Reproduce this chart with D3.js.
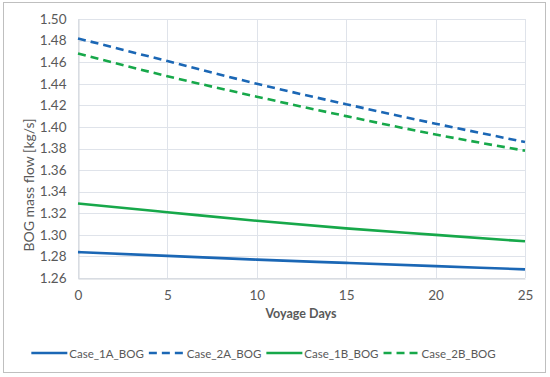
<!DOCTYPE html>
<html>
<head>
<meta charset="utf-8">
<script src="https://cdn.jsdelivr.net/npm/d3@7"></script>
<style>
  body { margin: 0; background: #fff; }
  text { font-family: Lato, "Open Sans", sans-serif; fill: #595959; }
</style>
</head>
<body>
<div id="chart"></div>
<script>
// values
var days = [0, 5, 10, 15, 20, 25];
var case1A = [1.284, 1.2805, 1.277, 1.274, 1.271, 1.268];
var case2A = [1.482, 1.461, 1.440, 1.421, 1.403, 1.386];
var case1B = [1.329, 1.321, 1.313, 1.306, 1.300, 1.294];
var case2B = [1.468, 1.447, 1.428, 1.410, 1.393, 1.378];
var yTicks = [1.26, 1.28, 1.30, 1.32, 1.34, 1.36, 1.38, 1.40, 1.42, 1.44, 1.46, 1.48, 1.50];

var series = [
  {name: 'Case_1A_BOG', vals: case1A, color: '#1b67b5', dash: null},
  {name: 'Case_2A_BOG', vals: case2A, color: '#1b67b5', dash: '8,5'},
  {name: 'Case_1B_BOG', vals: case1B, color: '#17a84a', dash: null},
  {name: 'Case_2B_BOG', vals: case2B, color: '#17a84a', dash: '8,5'}
];

var W = 550, H = 377;
var svg = d3.select('#chart').append('svg')
    .attr('width', W)
    .attr('height', H);

// outer frame
svg.append('rect')
    .attr('x', 3.5).attr('y', 2.5)
    .attr('width', 542).attr('height', 370)
    .style('fill', '#fff')
    .style('stroke', '#bfbfbf');

var x = d3.scaleLinear().domain([0, 25]).range([78, 525]);
var y = d3.scaleLinear().domain([1.26, 1.50]).range([278, 19]);

// grid
svg.append('g')
    .selectAll('line.h').data(yTicks).enter().append('line')
    .attr('x1', x(0)).attr('x2', x(25))
    .attr('y1', function(d) { return Math.round(y(d)) + 0.5; })
    .attr('y2', function(d) { return Math.round(y(d)) + 0.5; })
    .style('stroke', '#dfe3ea');
svg.append('g')
    .selectAll('line.v').data(days).enter().append('line')
    .attr('y1', y(1.26)).attr('y2', y(1.50))
    .attr('x1', function(d) { return Math.round(x(d)) + 0.5; })
    .attr('x2', function(d) { return Math.round(x(d)) + 0.5; })
    .style('stroke', '#dfe3ea');

// axes
var xAxis = svg.append('g')
    .attr('transform', 'translate(0,' + (Math.round(y(1.26)) + 0.5) + ')')
    .call(d3.axisBottom(x).tickValues(days).tickSize(0).tickPadding(12));
var yAxis = svg.append('g')
    .attr('transform', 'translate(' + (Math.round(x(0)) + 0.5) + ',0)')
    .call(d3.axisLeft(y).tickValues(yTicks).tickFormat(d3.format('.2f')).tickSize(0).tickPadding(12));
xAxis.select('.domain').style('stroke', '#d0d4da');
yAxis.select('.domain').style('stroke', '#d0d4da');
svg.selectAll('.tick text')
    .style('font-family', 'Lato, "Open Sans", sans-serif')
    .style('font-size', '13.5px')
    .style('fill', '#595959');

// lines
var line = d3.line()
    .x(function(d, i) { return x(days[i]); })
    .y(function(d) { return y(d); })
    .curve(d3.curveMonotoneX);

svg.append('g')
    .selectAll('path').data(series).enter().append('path')
    .attr('d', function(s) { return line(s.vals); })
    .style('fill', 'none')
    .style('stroke', function(s) { return s.color; })
    .style('stroke-width', 2.6)
    .style('stroke-dasharray', function(s) { return s.dash; });

// axis titles
svg.append('text')
    .attr('x', 301).attr('y', 318)
    .attr('text-anchor', 'middle')
    .style('font-size', '12.5px')
    .style('font-weight', 'bold')
    .text('Voyage Days');
svg.append('text')
    .attr('transform', 'translate(34,' + 185 + ') rotate(-90)')
    .attr('text-anchor', 'middle')
    .style('font-size', '14px')
    .text('BOG mass flow [kg/s]');

// legend: lay items out by measured text width, centred
var legend = svg.append('g');
var leg = legend.selectAll('g').data(series).enter().append('g');
leg.append('line')
    .attr('x1', 0).attr('x2', 36)
    .style('stroke', function(s) { return s.color; })
    .style('stroke-width', 2.6)
    .style('stroke-dasharray', function(s) { return s.dash; });
leg.append('text')
    .attr('x', 38).attr('y', 4.5)
    .style('font-size', '11.5px')
    .text(function(s) { return s.name; });

var pos = 0, offsets = [];
leg.each(function() {
  offsets.push(pos);
  pos += 38 + d3.select(this).select('text').node().getComputedTextLength() + 5;
});
var start = 263.5 - (pos - 5) / 2;
leg.attr('transform', function(s, i) { return 'translate(' + (start + offsets[i]) + ',353)'; });
</script>
</body>
</html>
